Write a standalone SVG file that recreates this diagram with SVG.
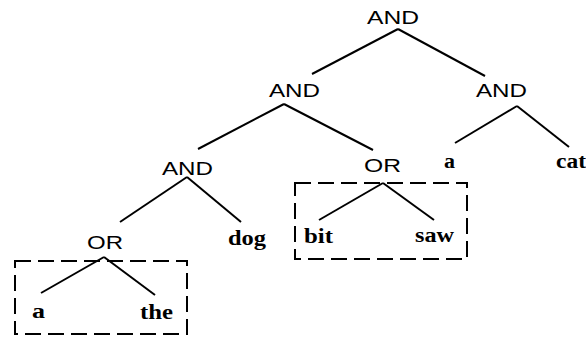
<svg xmlns="http://www.w3.org/2000/svg" width="586" height="341" viewBox="0 0 586 341">
<style>
.op{font-family:"Liberation Sans",Arial,sans-serif;font-size:19px;fill:#000}
.lf{font-family:"Liberation Serif","Times New Roman",serif;font-size:20px;font-weight:bold;fill:#000}
.edge{stroke:#000;stroke-width:2;fill:none}
.box{stroke:#000;stroke-width:2;fill:none;stroke-dasharray:16 7}
</style>
<rect width="586" height="341" fill="#fff"/>
<g id="connectors">
<line class="edge" x1="398" y1="29" x2="312" y2="74"/>
<line class="edge" x1="398" y1="29" x2="485" y2="76"/>
<line class="edge" x1="284" y1="104" x2="198" y2="149"/>
<line class="edge" x1="284" y1="104" x2="373" y2="150"/>
<line class="edge" x1="517" y1="106" x2="455" y2="143"/>
<line class="edge" x1="517" y1="106" x2="569" y2="147"/>
<line class="edge" x1="187" y1="177" x2="120" y2="222"/>
<line class="edge" x1="187" y1="177" x2="241" y2="222"/>
<line class="edge" x1="383" y1="183" x2="319" y2="220"/>
<line class="edge" x1="383" y1="183" x2="434" y2="220"/>
<line class="edge" x1="104" y1="257" x2="41" y2="293"/>
<line class="edge" x1="104" y1="257" x2="155" y2="295"/>
</g>
<g id="box-right"><rect class="box" x="295" y="183" width="172" height="76"/></g>
<g id="box-left"><rect class="box" x="15" y="261" width="172" height="73"/></g>
<g id="and-top"><text class="op" x="367" y="24" textLength="52" lengthAdjust="spacingAndGlyphs">AND</text></g>
<g id="and-mid"><text class="op" x="269" y="97" textLength="51" lengthAdjust="spacingAndGlyphs">AND</text></g>
<g id="and-right"><text class="op" x="476" y="97" textLength="51" lengthAdjust="spacingAndGlyphs">AND</text></g>
<g id="and-low"><text class="op" x="162" y="175" textLength="51" lengthAdjust="spacingAndGlyphs">AND</text></g>
<g id="or-right"><text class="op" x="364" y="172" textLength="37" lengthAdjust="spacingAndGlyphs">OR</text></g>
<g id="or-left"><text class="op" x="87" y="249" textLength="36" lengthAdjust="spacingAndGlyphs">OR</text></g>
<g id="leaf-a-right"><text class="lf" x="444" y="168" textLength="11" lengthAdjust="spacingAndGlyphs">a</text></g>
<g id="leaf-cat"><text class="lf" x="556" y="168" textLength="30" lengthAdjust="spacingAndGlyphs">cat</text></g>
<g id="leaf-bit"><text class="lf" x="304" y="243" textLength="29" lengthAdjust="spacingAndGlyphs">bit</text></g>
<g id="leaf-saw"><text class="lf" x="415" y="242" textLength="39" lengthAdjust="spacingAndGlyphs">saw</text></g>
<g id="leaf-dog"><text class="lf" x="228" y="245" textLength="38" lengthAdjust="spacingAndGlyphs">dog</text></g>
<g id="leaf-a-left"><text class="lf" x="32" y="318" textLength="13" lengthAdjust="spacingAndGlyphs">a</text></g>
<g id="leaf-the"><text class="lf" x="140" y="319" textLength="33" lengthAdjust="spacingAndGlyphs">the</text></g>
</svg>
